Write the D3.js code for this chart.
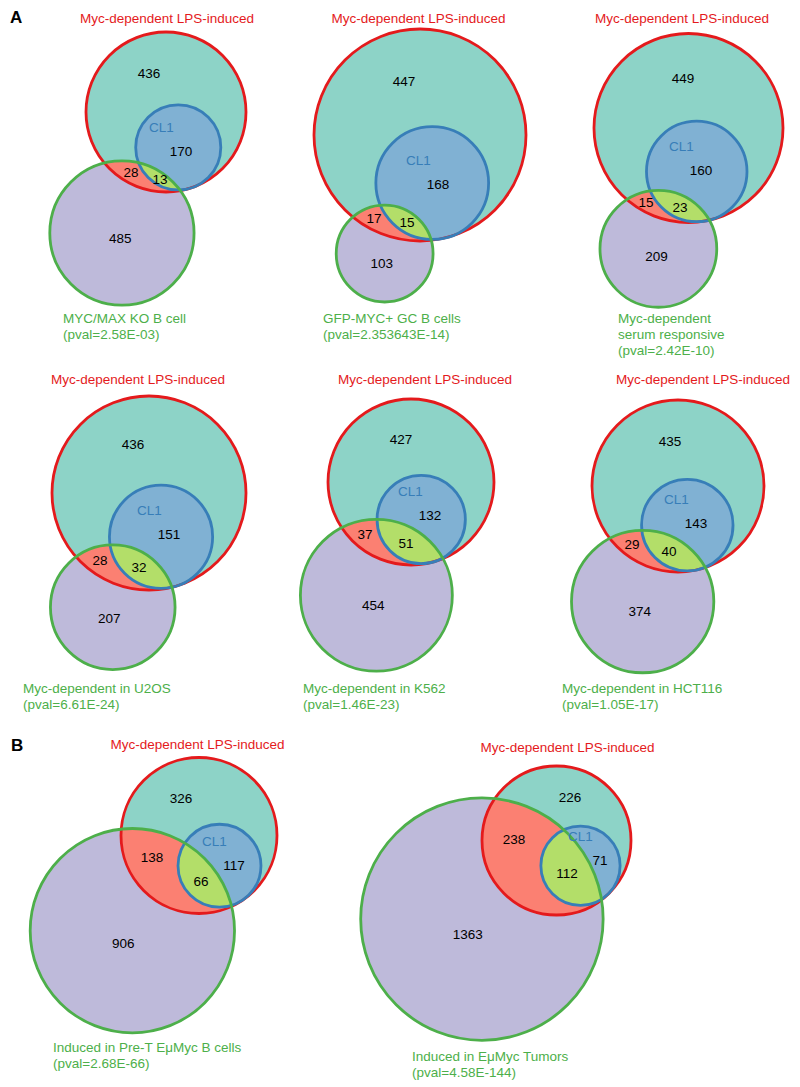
<!DOCTYPE html>
<html><head><meta charset="utf-8">
<script src="https://cdn.jsdelivr.net/npm/d3@7"></script>
<style>
body{margin:0;background:#fff}
svg{display:block}
text{font-family:"Liberation Sans",Arial,Helvetica,sans-serif}
</style>
</head><body>
<svg id="chart" width="800" height="1087"></svg>
<script>
// ---------------- DATA ----------------
const panelLetters = ["A","","","","","","B",""];
const setLPS = "Myc-dependent LPS-induced";
const setCL1 = "CL1";
const otherNames = [
  ["MYC/MAX KO B cell"],
  ["GFP-MYC+ GC B cells"],
  ["Myc-dependent","serum responsive"],
  ["Myc-dependent in U2OS"],
  ["Myc-dependent in K562"],
  ["Myc-dependent in HCT116"],
  ["Induced in Pre-T E\u03bcMyc B cells"],
  ["Induced in E\u03bcMyc Tumors"]
];
const pvalLabels = ["(pval=2.58E-03)","(pval=2.353643E-14)","(pval=2.42E-10)","(pval=6.61E-24)",
  "(pval=1.46E-23)","(pval=1.05E-17)","(pval=2.68E-66)","(pval=4.58E-144)"];
// region counts
const onlyLPS   = [436,447,449,436,427,435,326,226];   // LPS only (not CL1, not other)
const onlyCL1   = [170,168,160,151,132,143,117,71];    // CL1 (inside LPS), not other
const lpsOther  = [28,17,15,28,37,29,138,238];         // LPS & other, not CL1
const cl1Other  = [13,15,23,32,51,40,66,112];          // CL1 & other
const otherOnly = [485,103,209,207,454,374,906,1363];  // other only

// ---------------- LAYOUT (positions / sizes) ----------------
const layout = [
  {cx:166,  cy:112,  r:80,   angle:110,  tx:167,   ty:23,  lx:63,  ly:323},
  {cx:420,  cy:135,  r:106,  angle:106.6,tx:418.5, ty:23,  lx:323, ly:323},
  {cx:688.5,cy:128,  r:94.5, angle:104,  tx:682,   ty:23,  lx:618, ly:323},
  {cx:149,  cy:493,  r:97,   angle:107.6,tx:138,   ty:384, lx:23,  ly:693},
  {cx:411,  cy:482,  r:83,   angle:107,  tx:425,   ty:384, lx:303, ly:693},
  {cx:678,  cy:486,  r:86,   angle:107,  tx:703,   ty:384, lx:562, ly:693},
  {cx:199,  cy:835.5,r:78,   angle:125,  tx:197.5, ty:749, lx:53,  ly:1052},
  {cx:556.5,cy:840.5,r:74.5, angle:133.5,tx:567.5, ty:752, lx:412, ly:1061}
];
const letterPos = [{x:10,y:23},null,null,null,null,null,{x:11,y:751}];

const fillLPS = "#8dd3c7", fillCL1 = "#80b1d3", fillOther = "#bebada",
      fillLPSOther = "#fb8072", fillCL1Other = "#b3de69";
const strokeLPS = "#e41a1c", strokeCL1 = "#377eb8", strokeOther = "#4daf4a";
const FS = 13.5;

// ---------------- HELPERS ----------------
function lensArea(r1,r2,d){
  if (d >= r1+r2) return 0;
  if (d <= Math.abs(r1-r2)) return Math.PI*Math.min(r1,r2)**2;
  const a1 = Math.acos((d*d+r1*r1-r2*r2)/(2*d*r1));
  const a2 = Math.acos((d*d+r2*r2-r1*r1)/(2*d*r2));
  return r1*r1*a1 + r2*r2*a2 - 0.5*Math.sqrt((-d+r1+r2)*(d+r1-r2)*(d-r1+r2)*(d+r1+r2));
}
function distFor(r1,r2,area){
  let lo=Math.abs(r1-r2), hi=r1+r2;
  for(let k=0;k<60;k++){const m=(lo+hi)/2; if(lensArea(r1,r2,m)>area) lo=m; else hi=m;}
  return (lo+hi)/2;
}
// point of region (inside all 'inside', outside all 'outside') with largest margin
function pole(inside, outside){
  const c0 = inside[0];
  let best=[c0.x,c0.y], bm=-Infinity;
  for (let x=Math.floor(c0.x-c0.r); x<=c0.x+c0.r; x+=1){
    for (let y=Math.floor(c0.y-c0.r); y<=c0.y+c0.r; y+=1){
      let m=Infinity;
      for (const c of inside) m=Math.min(m, c.r-Math.hypot(x-c.x,y-c.y));
      for (const c of outside) m=Math.min(m, Math.hypot(x-c.x,y-c.y)-c.r);
      if (m>bm){bm=m;best=[x,y];}
    }
  }
  return best;
}
function centroid(inside, outside){
  const c0 = inside[0];
  let sx=0, sy=0, n=0;
  for (let x=Math.floor(c0.x-c0.r); x<=c0.x+c0.r; x+=1){
    for (let y=Math.floor(c0.y-c0.r); y<=c0.y+c0.r; y+=1){
      if (inside.every(c=>Math.hypot(x-c.x,y-c.y)<c.r) &&
          outside.every(c=>Math.hypot(x-c.x,y-c.y)>c.r)) {sx+=x;sy+=y;n++;}
    }
  }
  return [sx/n, sy/n];
}

const svg = d3.select("#chart");
const defs = svg.append("defs");

layout.forEach((L,i)=>{
  const totR = onlyLPS[i]+onlyCL1[i]+lpsOther[i]+cl1Other[i];
  const totB = onlyCL1[i]+cl1Other[i];
  const totG = otherOnly[i]+lpsOther[i]+cl1Other[i];
  const rScale = d3.scaleSqrt().domain([0,totR]).range([0,L.r]);
  const unitArea = Math.PI*rScale(1)**2;
  const rR = rScale(totR), rB = rScale(totB), rG = rScale(totG);
  const dRG = distFor(rR,rG,(lpsOther[i]+cl1Other[i])*unitArea);
  const dBG = distFor(rB,rG,cl1Other[i]*unitArea);
  const phi = L.angle*Math.PI/180;
  const R = {x:L.cx, y:L.cy, r:rR};
  const G = {x:L.cx+dRG*Math.cos(phi), y:L.cy+dRG*Math.sin(phi), r:rG};
  const a = rR-rB;
  let cosD = (a*a+dRG*dRG-dBG*dBG)/(2*a*dRG);
  cosD = Math.max(-1,Math.min(1,cosD));
  const th = phi-Math.acos(cosD);
  const B = {x:L.cx+a*Math.cos(th), y:L.cy+a*Math.sin(th), r:rB};

  const clipId = "clipOther"+i;
  defs.append("clipPath").attr("id",clipId).append("circle")
    .attr("cx",G.x).attr("cy",G.y).attr("r",G.r);

  const g = svg.append("g");
  const circ = (c,fill)=>g.append("circle").attr("cx",c.x).attr("cy",c.y).attr("r",c.r).attr("fill",fill);
  circ(R,fillLPS);
  circ(B,fillCL1);
  circ(G,fillOther);
  circ(R,fillLPSOther).attr("clip-path",`url(#${clipId})`);
  circ(B,fillCL1Other).attr("clip-path",`url(#${clipId})`);
  circ(R,"none").attr("stroke",strokeLPS).attr("stroke-width",2.8);
  circ(B,"none").attr("stroke",strokeCL1).attr("stroke-width",2.8);
  circ(G,"none").attr("stroke",strokeOther).attr("stroke-width",2.8);

  // region count labels
  const pB = pole([B],[G]);
  const regions = [
    {v:onlyLPS[i],  p:pole([R],[B,G])},
    {v:onlyCL1[i],  p:[pB[0], pB[1]+0.65*FS]},
    {v:lpsOther[i], p:pole([R,G],[B])},
    {v:cl1Other[i], p:pole([B,G],[])},
    {v:otherOnly[i],p:centroid([G],[R])}
  ];
  g.selectAll("text.count").data(regions).join("text").attr("class","count")
    .attr("x",d=>d.p[0]).attr("y",d=>d.p[1]).attr("dy","0.35em")
    .attr("text-anchor","middle").attr("font-size",FS).attr("fill","#000")
    .text(d=>d.v);
  // CL1 label above its count
  const pc = regions[1].p;
  g.append("text").attr("x",pc[0]-1.45*FS).attr("y",pc[1]-1.75*FS).attr("dy","0.35em")
    .attr("text-anchor","middle").attr("font-size",FS).attr("fill",strokeCL1).text(setCL1);

  // title
  g.append("text").attr("x",L.tx).attr("y",L.ty).attr("text-anchor","middle")
    .attr("font-size",FS).attr("fill",strokeLPS).text(setLPS);
  // other set label
  const lines = otherNames[i].concat([pvalLabels[i]]);
  g.selectAll("text.lab").data(lines).join("text").attr("class","lab")
    .attr("x",L.lx).attr("y",(d,k)=>L.ly+k*16)
    .attr("font-size",FS).attr("fill",strokeOther).text(d=>d);

  if (panelLetters[i]) {
    svg.append("text").attr("x",letterPos[i].x).attr("y",letterPos[i].y)
      .attr("font-size",17).attr("font-weight","bold").attr("fill","#000").text(panelLetters[i]);
  }
});
</script>
</body></html>
